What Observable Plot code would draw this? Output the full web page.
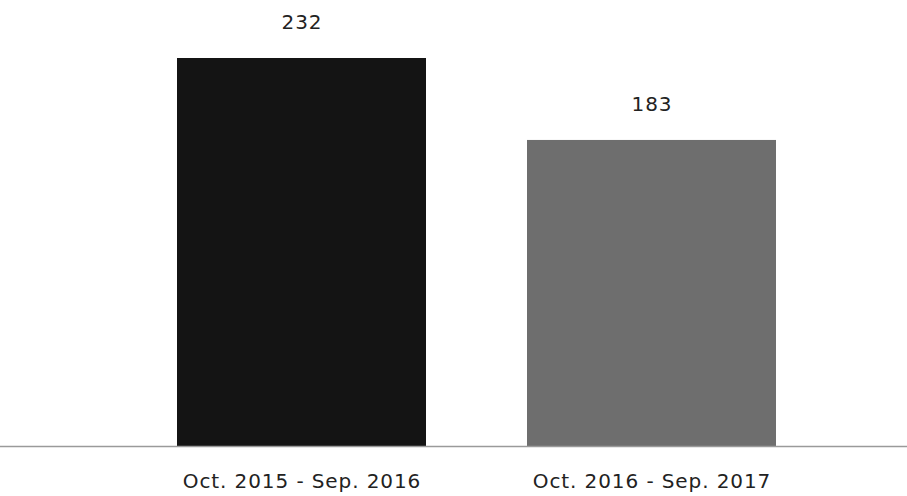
<!DOCTYPE html>
<html>
<head>
<meta charset="utf-8">
<script src="https://cdn.jsdelivr.net/npm/d3@7"></script>
<script src="https://cdn.jsdelivr.net/npm/@observablehq/plot@0.6"></script>
<style>
  html, body { margin: 0; padding: 0; background: #fff; }
  #chart svg { display: block; }
  #chart svg text { letter-spacing: 0.9px; }
</style>
</head>
<body>
<div id="chart"></div>
<script>
const periods = ["Oct. 2015 - Sep. 2016", "Oct. 2016 - Sep. 2017"];
const counts = [232, 183];
const barColors = ["#141414", "#6e6e6e"];

const data = periods.map((p, i) => ({period: p, count: counts[i], color: barColors[i]}));

const plot = Plot.plot({
  width: 907,
  height: 496,
  marginLeft: 75,
  marginRight: 29,
  marginTop: 20,
  marginBottom: 50,
  style: {fontFamily: "'DejaVu Sans', sans-serif", fontSize: "20px", color: "#222", background: "#fff"},
  x: {domain: periods, padding: 0.288, label: null},
  y: {domain: [0, 232 * 426 / 388], axis: null},
  marks: [
    Plot.barY(data, {x: "period", y: "count", fill: "color"}),
    Plot.ruleY([0], {stroke: "#9a9a9a", strokeWidth: 1.5, insetLeft: -75, insetRight: -29}),
    Plot.text(data, {x: "period", y: "count", text: d => String(d.count), dy: -36, fontSize: 20, fill: "#222"}),
    Plot.axisX({tickSize: 0, tickPadding: 27, fontSize: 20, label: null, fill: "#222"})
  ]
});
document.getElementById("chart").appendChild(plot);
</script>
</body>
</html>
